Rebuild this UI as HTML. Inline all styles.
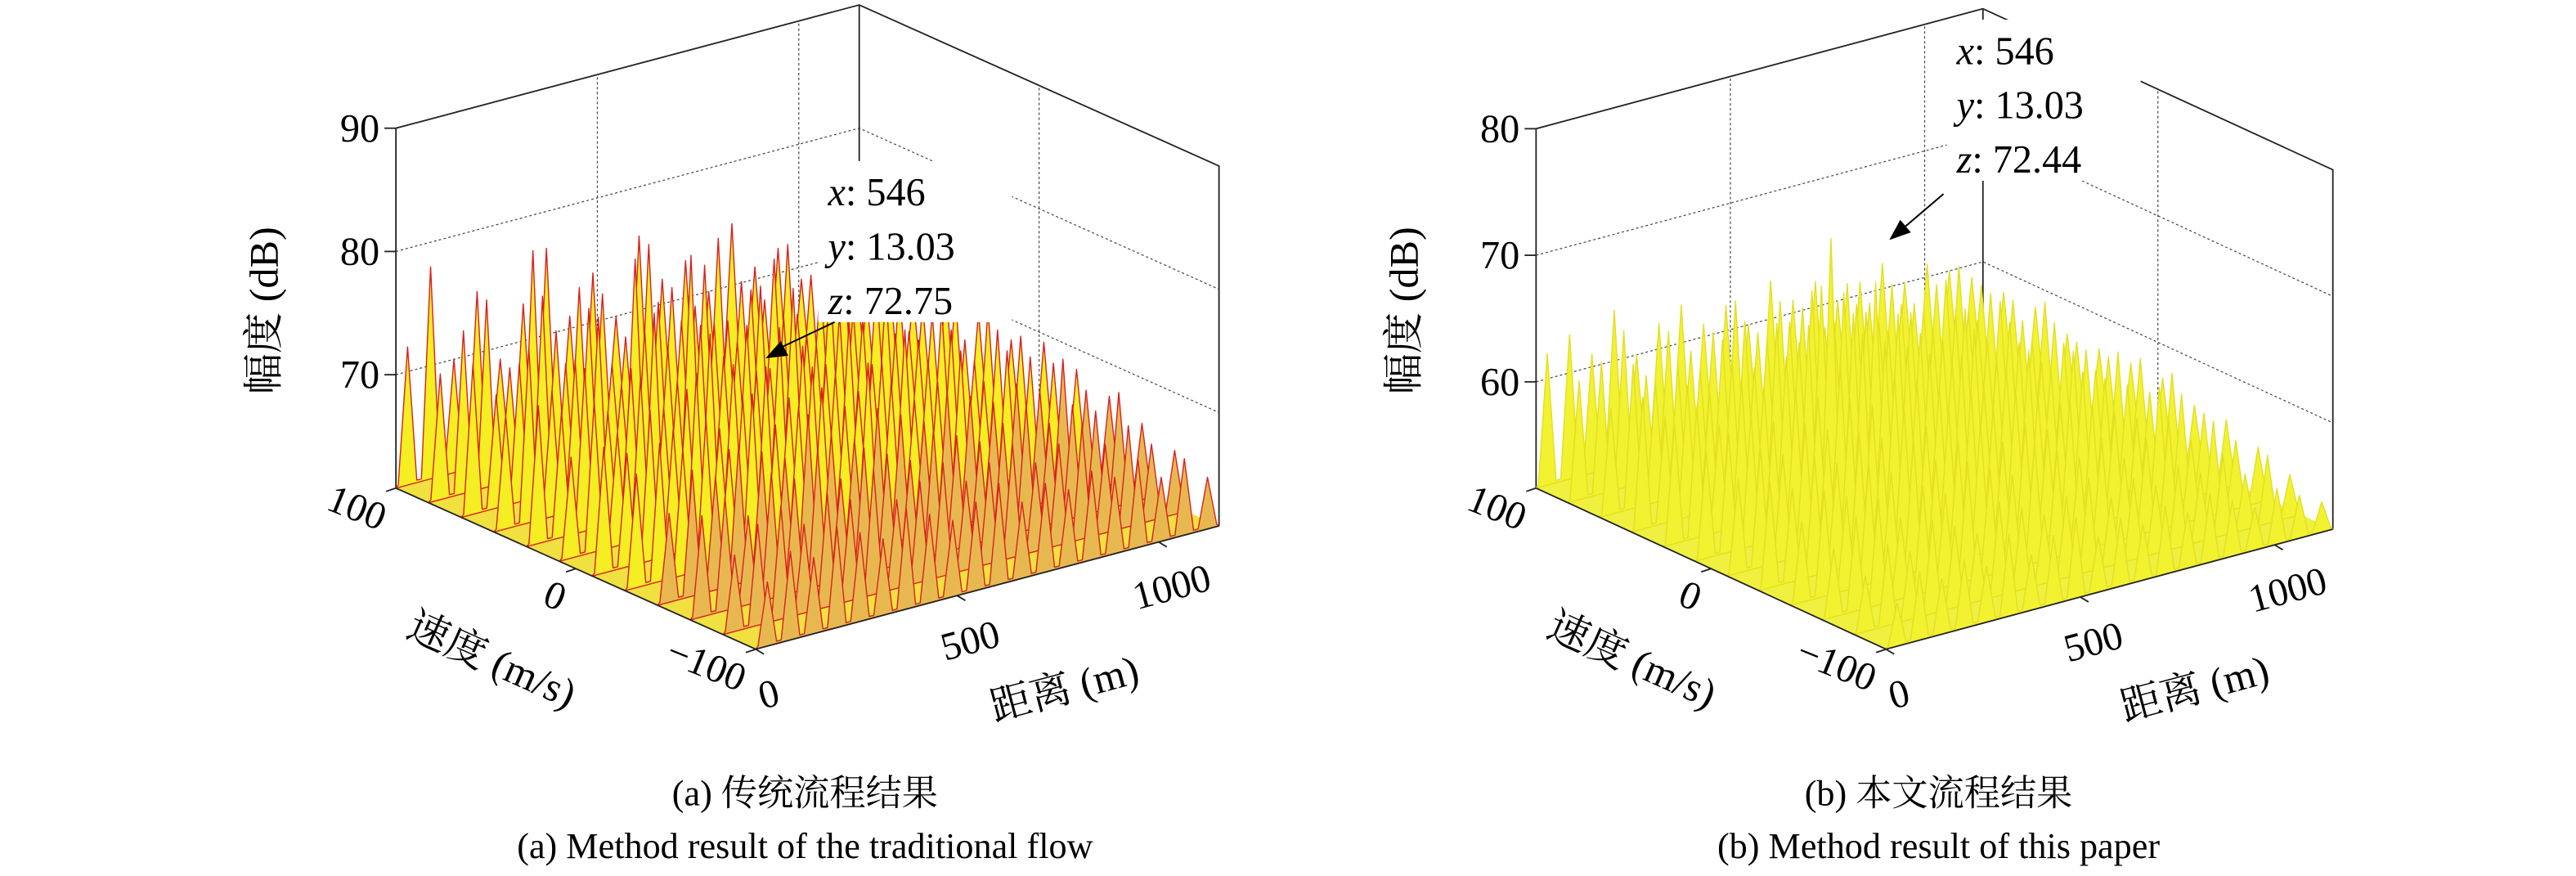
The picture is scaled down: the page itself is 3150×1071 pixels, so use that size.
<!DOCTYPE html>
<html><head><meta charset="utf-8">
<style>
html,body{margin:0;padding:0;background:#fff;}
svg{display:block;}
text{font-family:"Liberation Serif","Noto Serif CJK SC","Noto Sans CJK SC",serif;fill:#000;}
</style></head>
<body>
<svg id="fig" width="3150" height="1071" viewBox="0 0 1568 533" preserveAspectRatio="none" xmlns="http://www.w3.org/2000/svg">
<g id="chartA"></g>
<g id="chartB"></g>
<text x="490" y="490" font-size="22" text-anchor="middle">(a) 传统流程结果</text>
<text x="490" y="522" font-size="22" text-anchor="middle">(a) Method result of the traditional flow</text>
<text x="1180" y="490" font-size="22" text-anchor="middle">(b) 本文流程结果</text>
<text x="1180" y="522" font-size="22" text-anchor="middle">(b) Method result of this paper</text>
</svg>
<script>
// ---- data: peak amplitude (dB) per velocity row (v = 100 -> -100), along range 0 -> 1150 m
const zTicksA = [70, 80, 90];
const zTicksB = [60, 70, 80];
const vTicks = [100, 0, -100];
const rTicks = [0, 500, 1000];
const rowsA = [
 [72,78,70,75,69,73,77,71,74,70,76,72,73,70,75,71,72,69,70,68],
 [71,74,76,70,79,72,75,74,70,77,73,71,76,72,70,74,71,73,69,70],
 [73,70,72,77,71,75,70,78,74,72,76,71,73,75,70,72,74,70,71,69],
 [70,75,71,73,76,70,74,72,79,73,71,75,72,70,74,71,73,72,70,71],
 [72,71,74,70,73,77,71,75,72,74,70,76,71,73,72,74,70,71,72,70],
 [69,73,70,74,71,72,76,73,72,75,73,71,74,70,72,71,73,70,72,69],
 [71,70,73,71,75,70,72,74,71,73,72,70,72,74,71,73,70,72,71,70],
 [70,72,71,73,70,74,71,72,73,71,74,72,70,71,73,70,72,71,70,69],
 [68,71,70,72,71,70,73,71,70,72,71,70,72,71,70,71,70,72,69,68],
 [69,70,68,71,70,72,69,71,70,69,71,70,69,70,71,69,70,69,70,67],
 [67,69,70,68,70,69,71,68,69,70,68,69,70,68,69,70,68,69,67,66],
 [66,68,67,69,68,67,69,68,67,68,69,67,68,67,68,67,68,66,67,65]
];
const rowsB = [
 [62,63,61,64,60,62,63,61,62,60,63,61,62,60,61,62,60,61,60,59],
 [61,62,64,60,63,61,62,64,61,63,62,60,63,61,62,60,61,62,60,59],
 [60,63,61,62,61,63,64,62,63,65,62,63,61,62,61,63,60,61,60,59],
 [62,60,62,61,63,62,65,63,67,66,64,62,63,61,62,61,62,60,61,58],
 [61,62,60,63,62,64,66,72.4,66,68,65,63,62,64,61,62,60,61,59,58],
 [60,61,62,61,63,62,64,66,65,64,63,62,64,61,62,60,61,60,59,58],
 [59,61,60,62,61,63,62,64,63,62,64,61,62,63,61,62,60,61,60,58],
 [60,59,61,60,62,61,63,61,62,63,61,62,61,60,62,61,60,59,60,57],
 [58,60,59,61,60,62,60,61,62,60,61,60,62,61,60,59,61,60,58,57],
 [57,59,60,58,60,59,61,60,59,61,60,59,60,58,59,60,58,59,57,56],
 [56,58,57,59,58,57,59,58,57,58,59,57,58,57,58,57,58,56,57,55],
 [55,57,56,57,56,58,56,57,58,56,57,56,57,56,57,56,55,56,55,54]
];

const NS = "http://www.w3.org/2000/svg";
function mk(parent, tag, attrs, txt){
  const e = document.createElementNS(NS, tag);
  for (const k in attrs) e.setAttribute(k, attrs[k]);
  if (txt !== undefined) e.textContent = txt;
  parent.appendChild(e);
  return e;
}

function drawChart(g, cfg){
  const A = cfg.A, D = cfg.D, C = cfg.C;
  const rMax = 1150, vMin = -100, vMax = 100;
  const zMin = cfg.zMin, zMax = cfg.zMax, zpx = cfg.zpx;
  function P(r, v, z){
    const fr = r / rMax, fv = (v - vMin) / (vMax - vMin);
    const x = D[0] + fr * (C[0] - D[0]) + fv * (A[0] - D[0]);
    const y = D[1] + fr * (C[1] - D[1]) + fv * (A[1] - D[1]) - (z - zMin) * zpx;
    return [x, y];
  }
  const pt = p => p[0].toFixed(1) + "," + p[1].toFixed(1);
  const box = mk(g, "g", {});
  
  
  const grid = {stroke:"#444","stroke-width":0.6,"stroke-dasharray":"1.5,1.5",fill:"none"};
  cfg.zTicks.forEach(z => {
    if (z >= zMax) return;
    const l = mk(box, "polyline", Object.assign({points: pt(P(0,100,z))+" "+pt(P(rMax,100,z))+" "+pt(P(rMax,-100,z))}, grid));
    
    
  });
  rTicks.forEach(r => {
    if (r <= 0) return;
    const l = mk(box, "line", Object.assign({x1:P(r,100,zMin)[0],y1:P(r,100,zMin)[1],x2:P(r,100,zMax)[0],y2:P(r,100,zMax)[1]}, grid));
    
    
  });
  [0].forEach(v => {
    const l = mk(box, "line", Object.assign({x1:P(rMax,v,zMin)[0],y1:P(rMax,v,zMin)[1],x2:P(rMax,v,zMax)[0],y2:P(rMax,v,zMax)[1]}, grid));
    
    
  });
  const solid = {stroke:"#222","stroke-width":0.9,fill:"none"};
  const frame = mk(box, "polyline", Object.assign({points:
    pt(P(0,100,zMin))+" "+pt(P(0,100,zMax))+" "+pt(P(rMax,100,zMax))+" "+pt(P(rMax,-100,zMax))+" "+pt(P(rMax,-100,zMin))}, solid));
  
  
  const bk = mk(box, "line", Object.assign({x1:P(rMax,100,zMin)[0],y1:P(rMax,100,zMin)[1],x2:P(rMax,100,zMax)[0],y2:P(rMax,100,zMax)[1]}, solid));
  
  

  const rows = cfg.rows;
  const surf = mk(g, "g", {});
  
  
  const floor = mk(surf, "polygon", {points: [P(0,100,zMin),P(rMax,100,zMin),P(rMax,-100,zMin),P(0,-100,zMin)].map(pt).join(" "), fill: cfg.floorFill});
  
  
  rows.forEach((row, i) => {
    const v = vMax - i * (vMax - vMin) / (rows.length - 1);
    const n = row.length, dr = rMax / n;
    let pts = [pt(P(0, v, zMin))];
    row.forEach((z, j) => {
      const r0 = j * dr;
      pts.push(pt(P(r0 + dr * 0.1, v, cfg.valley)));
      pts.push(pt(P(r0 + dr * 0.5, v, z)));
      pts.push(pt(P(r0 + dr * 0.9, v, cfg.valley)));
    });
    pts.push(pt(P(rMax, v, zMin)));
    const frontShade = (i >= rows.length - 4) && cfg.frontFill;
    const poly = mk(surf, "polygon", {points: pts.join(" "),
      fill: frontShade ? cfg.frontFill : cfg.fill, stroke: cfg.stroke, "stroke-width": 0.7, "stroke-linejoin":"round"});
    
    
  });

  const ax = mk(g, "g", {});
  
  
  const e1 = mk(ax, "polyline", Object.assign({points: pt(P(0,100,zMin))+" "+pt(P(0,-100,zMin))+" "+pt(P(rMax,-100,zMin))}, solid));
  
  
  cfg.zTicks.forEach(z => {
    const p = P(0,100,z);
    const t = mk(ax, "line", {x1:p[0]-7,y1:p[1],x2:p[0],y2:p[1],stroke:"#222","stroke-width":0.9});
    
    
    const l = mk(ax, "text", {x:p[0]-10,y:p[1]+8,"font-size":24,"text-anchor":"end"}, String(z));
    
    
  });
  vTicks.forEach(v => {
    const p = P(0, v, zMin);
    const t = mk(ax, "line", {x1:p[0],y1:p[1],x2:p[0]-6,y2:p[1]+2,stroke:"#222","stroke-width":0.9});
    
    
    const l = mk(ax, "text", {x:p[0]-10,y:p[1]+26,"font-size":24,"text-anchor":"end",transform:"rotate(22 "+(p[0]-10)+" "+(p[1]+26)+")"}, String(v).replace("-","−"));
    
    
  });
  rTicks.forEach(r => {
    const p = P(r, -100, zMin);
    const t = mk(ax, "line", {x1:p[0],y1:p[1],x2:p[0]+5,y2:p[1]+3,stroke:"#222","stroke-width":0.9});
    
    
    const l = mk(ax, "text", {x:p[0]+10,y:p[1]+35,"font-size":24,"text-anchor":"middle",transform:"rotate(-15 "+(p[0]+10)+" "+(p[1]+35)+")"}, String(r));
    
    
  });
  const zl = mk(ax, "text", {x:0,y:0,"font-size":25,"text-anchor":"middle",transform:"translate("+(A[0]-72)+","+(A[1]-108)+") rotate(-90)"}, "幅度 (dB)");
  
  
  const vl = mk(ax, "text", {x:0,y:0,"font-size":25,"text-anchor":"middle",transform:"translate("+(A[0]+55)+","+(A[1]+112)+") rotate(24)"}, "速度 (m/s)");
  
  
  const rl = mk(ax, "text", {x:0,y:0,"font-size":25,"text-anchor":"middle",transform:"translate("+(D[0]+190)+","+(D[1]+32)+") rotate(-15)"}, "距离 (m)");
  
  

  const tip = mk(g, "g", {});
  
  
  const bx = cfg.tip[0], by = cfg.tip[1];
  mk(tip, "rect", {x:bx, y:by, width:118, height:98, fill:"#fff"});
  const lines = [["x","546"],["y","13.03"],["z",cfg.tipZ]];
  lines.forEach((ln, k) => {
    const t = mk(tip, "text", {x:bx+6, y:by+27+k*33, "font-size":24});
    
    
    mk(t, "tspan", {"font-style":"italic"}, ln[0]);
    mk(t, "tspan", {}, ": " + ln[1]);
  });
  const tgt = cfg.arrowTo, from = cfg.arrowFrom;
  const ar = mk(tip, "line", {x1:from[0],y1:from[1],x2:tgt[0]+6,y2:tgt[1]-5,stroke:"#000","stroke-width":1});
  
  
  const ang = Math.atan2(tgt[1]-from[1], tgt[0]-from[0]);
  const hx = tgt[0], hy = tgt[1], L = 13, W = 5;
  const bxp = hx - L*Math.cos(ang), byp = hy - L*Math.sin(ang);
  const head = mk(tip, "polygon", {points: hx+","+hy+" "+(bxp - W*Math.sin(ang))+","+(byp + W*Math.cos(ang))+" "+(bxp + W*Math.sin(ang))+","+(byp - W*Math.cos(ang)), fill:"#000"});
  
  
}

drawChart(document.getElementById("chartA"), {
  A:[241,297], D:[460,395], C:[742,320], zMin:60.8, zMax:90, zpx:7.5,
  zTicks:zTicksA, rows:rowsA, valley:61, fill:"#f4ee22", frontFill:"#e8b850", floorFill:"#f0e040", stroke:"#d82020",
  tip:[498,98], tipZ:"72.75", arrowFrom:[508,196], arrowTo:[466,218]
});
drawChart(document.getElementById("chartB"), {
  A:[935,297], D:[1148,395], C:[1420,322], zMin:51.6, zMax:80, zpx:7.7,
  zTicks:zTicksB, rows:rowsB, valley:51.8, fill:"#f2f230", frontFill:null, floorFill:"#f0f040", stroke:"#e2e020",
  tip:[1185,12], tipZ:"72.44", arrowFrom:[1183,118], arrowTo:[1150,146]
});
</script>
</body></html>
